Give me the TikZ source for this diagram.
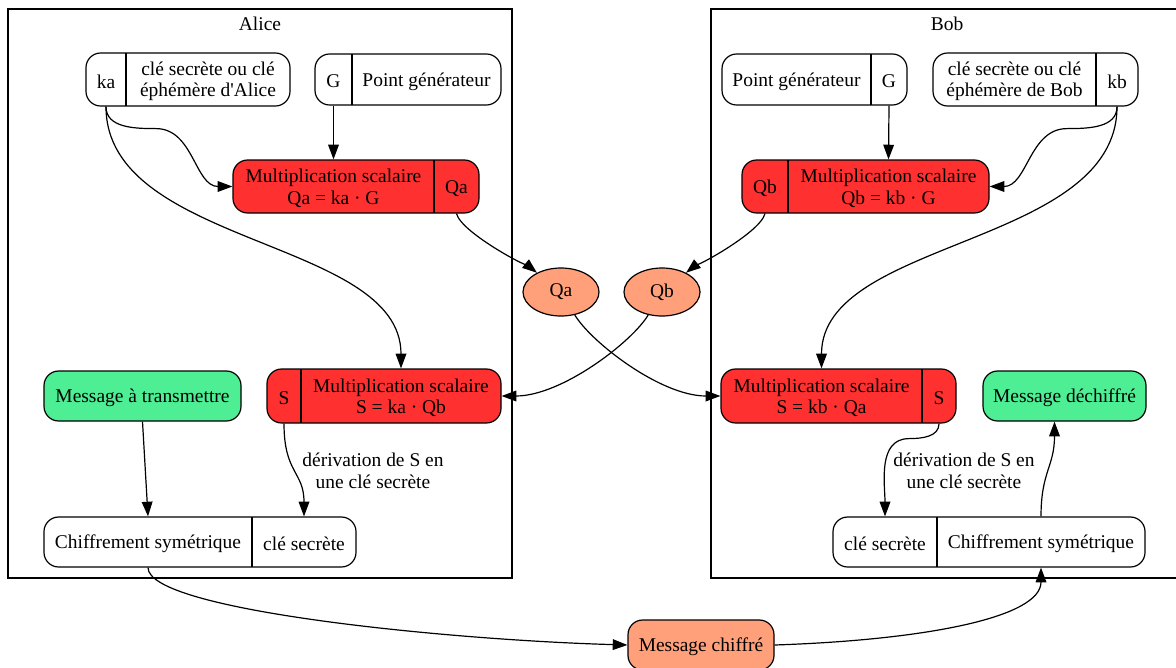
\documentclass[tikz,border=0pt]{standalone}
\usepackage{fontspec}
\setmainfont{Liberation Serif}
\usetikzlibrary{arrows.meta,fit,calc,shapes.geometric}

\definecolor{mulred}{HTML}{FF3030}
\definecolor{msggreen}{HTML}{4EEE94}
\definecolor{ptsalmon}{HTML}{FFA07A}

\tikzset{
  recbox/.style={draw,rounded corners=11pt,inner sep=0pt},
  mulbox/.style={recbox,fill=mulred},
  msgbox/.style={recbox,fill=msggreen},
  ptnode/.style={ellipse,draw,fill=ptsalmon,minimum width=57pt,minimum height=36pt},
  lbl/.style={yshift=-1.4pt},
}

\begin{document}
\begin{tikzpicture}[x=0.75pt,y=-0.75pt,line width=0.9pt,
    font=\fontsize{14.6}{16.2}\selectfont,
    every node/.append style={align=center,inner sep=0pt},
    >={Triangle[length=11pt,width=8pt]}]
  \useasboundingbox (0,0) rectangle (1176,667);

  % clusters
  \draw (8,9) rectangle (512,578);
  \node (alice) at (260,24) {Alice};
  \draw (711,9) rectangle (1190,578);
  \node (bob) at (947,24) {Bob};

  % Alice
  \node[recbox,fit={(86,53) (290,106)}] (kaA) {};
  \draw (126,53) -- (126,106);
  \node[lbl] (kaAport) at (106,79.5) {ka};
  \node[lbl] (kaAtxt) at (208,79.5) {clé secrète ou clé\\éphémère d\textquotesingle Alice};

  \node[recbox,fit={(315,54) (501,105)}] (GA) {};
  \draw (352,54) -- (352,105);
  \node[lbl] (GAport) at (333.5,79.5) {G};
  \node[lbl] (GAtxt) at (426.5,79.5) {Point générateur};

  \node[mulbox,fit={(233,160) (479,213)}] (QaMult) {};
  \draw (434,160) -- (434,213);
  \node[lbl] (QaMulttxt) at (333.5,186.5) {Multiplication scalaire\\Qa = ka · G};
  \node[lbl] (QaMultport) at (456.5,186.5) {Qa};

  \node[mulbox,fit={(267,369) (501,423)}] (SA) {};
  \draw (301,369) -- (301,423);
  \node[lbl] (SAport) at (284,396) {S};
  \node[lbl] (SAtxt) at (401,396) {Multiplication scalaire\\S = ka · Qb};

  \node[msgbox,fit={(44,371) (241,421)}] (MsgA) {};
  \node[lbl] (MsgAtxt) at (MsgA.center) {Message à transmettre};

  \node[recbox,fit={(44,517) (356,567)}] (ChiffA) {};
  \draw (252,517) -- (252,567);
  \node[lbl] (ChiffAtxt) at (148,542) {Chiffrement symétrique};
  \node[lbl] (ChiffAkey) at (304,542) {clé secrète};

  % Bob
  \node[recbox,fit={(722,54) (907,105)}] (GB) {};
  \draw (871,54) -- (871,105);
  \node[lbl] (GBtxt) at (796.5,79.5) {Point générateur};
  \node[lbl] (GBport) at (889,79.5) {G};

  \node[recbox,fit={(933,53) (1138,106)}] (kbB) {};
  \draw (1096,53) -- (1096,106);
  \node[lbl] (kbBtxt) at (1014.5,79.5) {clé secrète ou clé\\éphémère de Bob};
  \node[lbl] (kbBport) at (1117,79.5) {kb};

  \node[mulbox,fit={(742,160) (989,213)}] (QbMult) {};
  \draw (788,160) -- (788,213);
  \node[lbl] (QbMultport) at (765,186.5) {Qb};
  \node[lbl] (QbMulttxt) at (888.5,186.5) {Multiplication scalaire\\Qb = kb · G};

  \node[mulbox,fit={(721,369) (956,423)}] (SB) {};
  \draw (922,369) -- (922,423);
  \node[lbl] (SBtxt) at (821.5,396) {Multiplication scalaire\\S = kb · Qa};
  \node[lbl] (SBport) at (939,396) {S};

  \node[msgbox,fit={(983,371) (1146,421)}] (MsgB) {};
  \node[lbl] (MsgBtxt) at (MsgB.center) {Message déchiffré};

  \node[recbox,fit={(833,517) (1145,567)}] (ChiffB) {};
  \draw (937,517) -- (937,567);
  \node[lbl] (ChiffBkey) at (885,542) {clé secrète};
  \node[lbl] (ChiffBtxt) at (1041,542) {Chiffrement symétrique};

  % public points and message
  \node[ptnode] (Qa) at (561,292) {Qa};
  \node[ptnode] (Qb) at (662,292) {Qb};
  \node[recbox,fill=ptsalmon,fit={(628,620) (774,670)}] (MsgC) {};
  \node[lbl] (MsgCtxt) at (MsgC.center) {Message chiffré};

  % connectors Alice
  \draw[->] (kaAport |- kaA.south) to[out=-90,in=180] ++(50,22)
    to[out=0,in=180] (QaMult.west);
  \draw[->] (kaAport |- kaA.south) .. controls +(0,140) and +(0,-130) .. (SAtxt |- SA.north);
  \draw[->] (GAport |- GA.south) -- (QaMulttxt |- QaMult.north);
  \draw[->] (QaMultport |- QaMult.south) .. controls +(5,20) and +(-25,-20) .. (Qa);
  \draw[->] (Qb) .. controls +(-30,50) and +(60,0) .. (SA.east);
  \draw[->] (SAport |- SA.south) .. controls +(0,50) and +(0,-45) .. (ChiffAkey |- ChiffA.north);
  \node[lbl] (derivA) at (373,469) {dérivation de S en\\une clé secrète};
  \draw[->] (MsgA.south) -- (ChiffAtxt |- ChiffA.north);
  \draw[->] (ChiffAtxt |- ChiffA.south) .. controls +(0,43) and +(-178,-5) .. (MsgC.west);

  % connectors Bob
  \draw[->] (kbBport |- kbB.south) to[out=-90,in=0] ++(-50,22)
    to[out=180,in=0] (QbMult.east);
  \draw[->] (kbBport |- kbB.south) .. controls +(0,140) and +(0,-130) .. (SBtxt |- SB.north);
  \draw[->] (GBport |- GB.south) -- (QbMulttxt |- QbMult.north);
  \draw[->] (QbMultport |- QbMult.south) .. controls +(-5,20) and +(25,-20) .. (Qb);
  \draw[->] (Qa) .. controls +(30,50) and +(-60,0) .. (SB.west);
  \draw[->] (SBport |- SB.south) to[out=-90,in=0] ++(-30,15)
    to[out=180,in=90] (ChiffBkey |- ChiffB.north);
  \node[lbl] (derivB) at (964,469) {dérivation de S en\\une clé secrète};
  \draw[->] (ChiffBtxt |- ChiffB.north) .. controls +(0,-45) and +(0,45) .. ($(MsgB.south)+(-10,0)$);
  \draw[->] (MsgC.east) .. controls +(150,-5) and +(0,50) .. (ChiffBtxt |- ChiffB.south);
\end{tikzpicture}
\end{document}
